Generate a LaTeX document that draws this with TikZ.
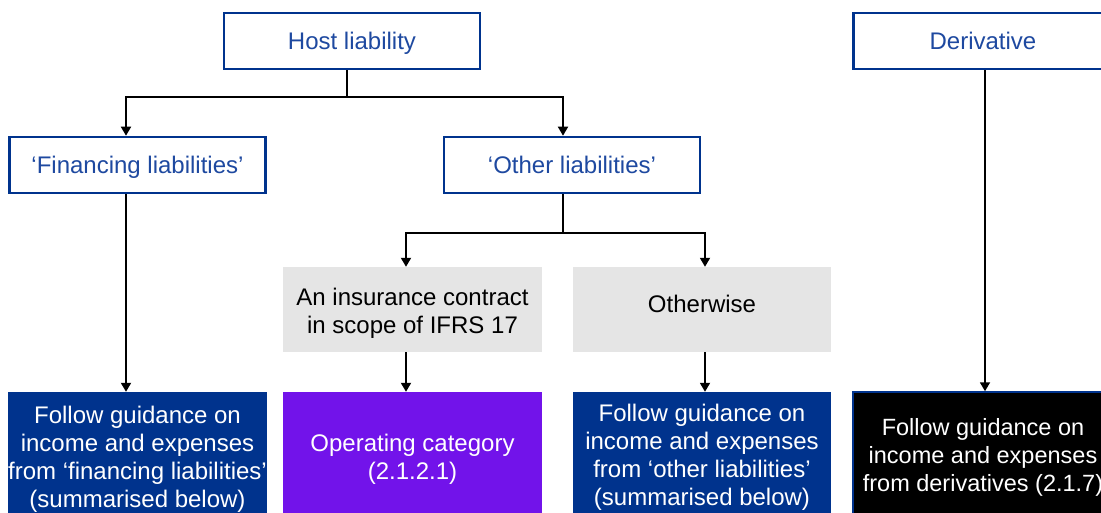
\documentclass[tikz,border=0pt]{standalone}
\usepackage{fontspec}
\setmainfont{Liberation Sans}
\usetikzlibrary{arrows.meta}
\definecolor{kblue}{HTML}{00338D}
\definecolor{ktext}{HTML}{1E49A0}
\definecolor{kpurple}{HTML}{7213EA}
\definecolor{kgrey}{HTML}{E5E5E5}
\newcommand{\tb}[2]{\raisebox{#1}[\height][\depth]{\begin{tabular}{@{}c@{}}#2\end{tabular}}}
\begin{document}
\begin{tikzpicture}[x=1pt,y=-1pt,
  txt/.style={font=\fontsize{24}{28}\selectfont, align=center, inner sep=0pt},
  outbox/.style={txt, draw=kblue, line width=2.6pt, fill=white, text=ktext, minimum height=56, minimum width=256},
  greybox/.style={txt, fill=kgrey, text=black, minimum height=85, minimum width=259},
  solidbox/.style={txt, text=white, minimum height=128, minimum width=259},
  conn/.style={line width=1.8pt, black},
  arr/.style={conn, -{Triangle[width=10pt,length=9pt]}}]
\useasboundingbox (0,0) rectangle (1101,513);
\clip (0,0) rectangle (1101,513);
% boxes
\node[outbox] (host) at (352,41) {\tb{-3pt}{Host liability}};
\node[outbox, minimum width=259] (der) at (983,41) {\tb{-3pt}{Derivative}};
\node[outbox] (fin) at (137.5,165) {\tb{-3pt}{‘Financing liabilities’}};
\node[outbox] (oth) at (572,165) {\tb{-3pt}{‘Other liabilities’}};
\node[greybox] (ins) at (412.5,309.5) {\tb{-4pt}{An insurance contract\\in scope of IFRS 17}};
\node[greybox, minimum width=258] (othw) at (702,309.5) {\tb{3pt}{Otherwise}};
\node[solidbox, fill=kblue] (b1) at (137.5,456) {\tb{-3.5pt}{Follow guidance on\\income and expenses\\from ‘financing liabilities’\\(summarised below)}};
\node[solidbox, fill=kpurple] (b2) at (412.5,456) {\tb{-4pt}{Operating category\\(2.1.2.1)}};
\node[solidbox, fill=kblue, minimum width=258] (b3) at (702,456) {\tb{-1.5pt}{Follow guidance on\\income and expenses\\from ‘other liabilities’\\(summarised below)}};
\node[solidbox, fill=black, draw=kblue, line width=1.5pt, minimum width=260, font=\fontsize{23.5}{28}\selectfont] (b4) at (983,456) {\tb{-2pt}{Follow guidance on\\income and expenses\\from derivatives (2.1.7)}};
% junctions
\coordinate (hM) at (347,97);
\coordinate (hL) at (126,97);
\coordinate (hR) at (563,97);
\coordinate (oM) at (563,233);
\coordinate (oL) at (406,233);
\coordinate (oR) at (705,233);
\coordinate (dX) at (985,0);
% connectors
\draw[conn] (host.south -| hM) -- (hM);
\draw[arr] (hM) -| (fin.north -| hL);
\draw[arr] (hM) -| (oth.north -| hR);
\draw[arr] (fin.south -| hL) -- (b1.north -| hL);
\draw[conn] (oth.south -| oM) -- (oM);
\draw[arr] (oM) -| (ins.north -| oL);
\draw[arr] (oM) -| (othw.north -| oR);
\draw[arr] (ins.south -| oL) -- (b2.north -| oL);
\draw[arr] (othw.south -| oR) -- (b3.north -| oR);
\draw[arr] (der.south -| dX) -- (b4.north -| dX);
\end{tikzpicture}
\end{document}
